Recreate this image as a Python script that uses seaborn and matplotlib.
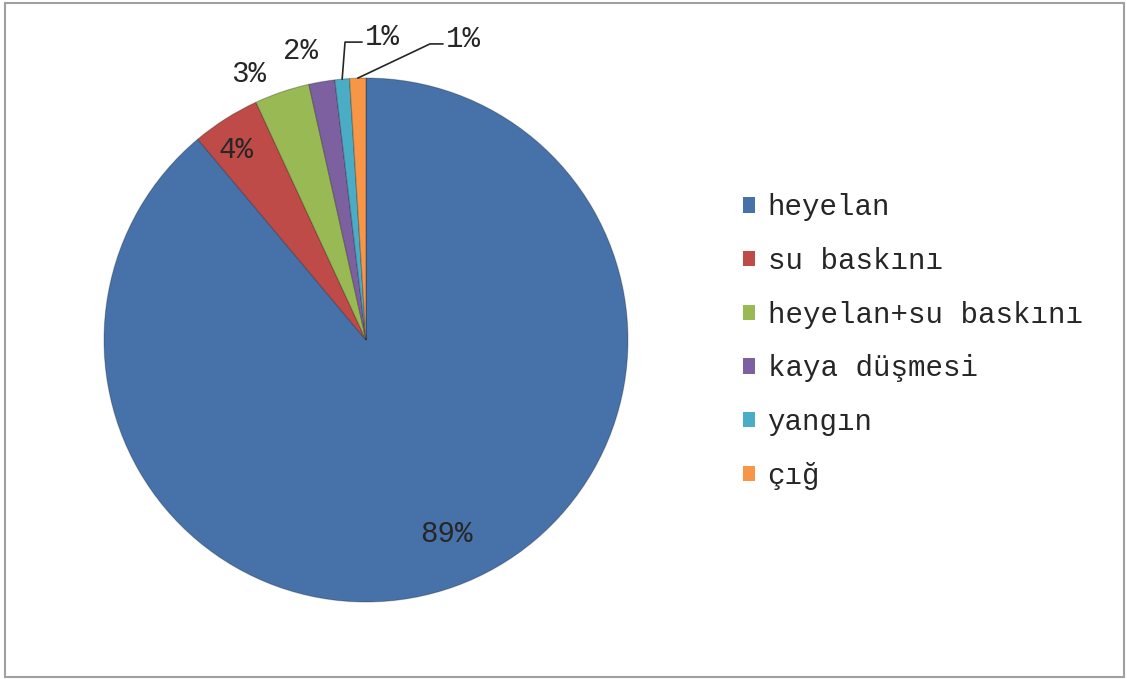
import numpy as np
import seaborn as sns
import matplotlib.pyplot as plt
from matplotlib.patches import Rectangle

# slice values (percent)
categories = ["heyelan", "su baskını", "heyelan+su baskını", "kaya düşmesi", "yangın", "çığ"]
values = [88.9, 4.2, 3.4, 1.6, 0.9, 1.0]
pct_labels = ["89%", "4%", "3%", "2%", "1%", "1%"]
colors = ["#4672A9", "#BE4B48", "#98B954", "#7D60A0", "#4BACC6", "#F79646"]

sns.set_theme(style="white")
plt.rcParams["font.family"] = ["Liberation Mono", "DejaVu Sans Mono"]
FS = 21

fig = plt.figure(figsize=(11.27, 6.79), dpi=100)
W, H = 1127, 679

# outer grey frame
fig.add_artist(Rectangle((5 / W, 2 / H), 1119 / W, 674 / H, transform=fig.transFigure,
                         fill=False, edgecolor="#a0a0a0", linewidth=1.5))

# pie axes: centre (366, 340) px, radius 262 px
cx, cy, r = 366, 340, 262
ax = fig.add_axes([(cx - r) / W, (H - cy - r) / H, 2 * r / W, 2 * r / H])
wedges, _ = ax.pie(values, colors=colors, startangle=90, counterclock=False, radius=1,
                   wedgeprops=dict(edgecolor=(0, 0, 0, 0.25), linewidth=0.8))
ax.set_xlim(-1, 1)
ax.set_ylim(-1, 1)
ax.set_axis_off()


def mid(w):
    return np.deg2rad((w.theta1 + w.theta2) / 2)


# label placement: (radius, angle nudge in degrees)
place = [(0.80, 2.5), (0.88, 2), (1.11, 5), (1.13, 3)]
for w, lab, (rr, nudge) in zip(wedges[:4], pct_labels[:4], place):
    a = mid(w) + np.deg2rad(nudge)
    ax.text(rr * np.cos(a), rr * np.sin(a), lab, ha="center", va="center",
            fontsize=FS, color="#262626")

# leader lines for the two smallest slices
leaders = [((-0.080, 1.137), (-0.015, 1.137)), ((0.244, 1.13), (0.294, 1.13))]
for w, lab, (elbow, end) in zip(wedges[4:], pct_labels[4:], leaders):
    a = mid(w)
    x0, y0 = np.cos(a), np.sin(a)
    ax.plot([x0, elbow[0], end[0]], [y0, elbow[1], end[1]], color="#262626",
            linewidth=1.2, clip_on=False)
    ax.text(end[0] + 0.01, end[1] + 0.02, lab, ha="left", va="center",
            fontsize=FS, color="#262626")

leg = fig.legend(wedges, categories, loc="center left", bbox_to_anchor=(743 / W, 0.497),
                 frameon=False, fontsize=FS, handlelength=0.42, handleheight=0.42,
                 handletextpad=0.42, labelspacing=0.88, borderpad=0, borderaxespad=0)
for h in leg.legend_handles:
    h.set_edgecolor("none")
for t in leg.get_texts():
    t.set_color("#262626")

fig.savefig("out.png", dpi=100)
